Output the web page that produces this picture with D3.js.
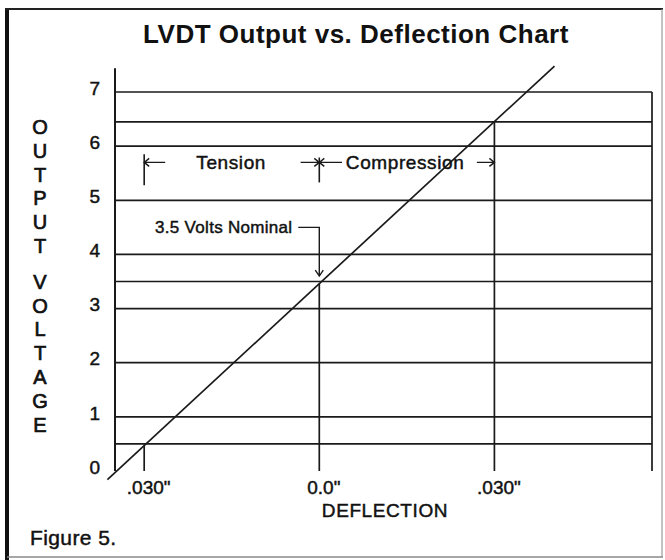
<!DOCTYPE html>
<html>
<head>
<style>
  body { margin: 0; background: #fff; }
  text { font-family: "Liberation Sans", Arial, Helvetica, sans-serif; fill: #111; }
  .ink { stroke: #111; stroke-width: 0.45px; }
  .grid line, .mark { stroke: #1a1a1a; stroke-width: 1.7; fill: none; }
</style>
</head>
<body>
<script src="https://d3js.org/d3.v7.min.js"></script>
<script>
// deflection in inches, output in volts
const gridVolts = [0.5, 1, 2, 3, 3.5, 4, 5, 6, 6.45, 7];
const voltTicks = [0, 1, 2, 3, 4, 5, 6, 7];
const deflTicks = [-0.030, 0, 0.030];
const deflLabels = ['.030"', '0.0"', '.030"'];
const markerTops = [0.47, 3.46, 6.45];          // where each deflection marker meets the line
const responseLine = [[-0.0363, -0.16], [0.0403, 7.48]];
const yTitle = 'OUTPUT VOLTAGE';

const width = 665, height = 560;

const svg = d3.select('body').append('svg')
  .attr('width', width)
  .attr('height', height);

// Frame
svg.append('line').attr('x1', 7).attr('x2', 7).attr('y1', 8).attr('y2', 560)
  .attr('stroke', '#111').attr('stroke-width', 4);
svg.append('line').attr('x1', 5).attr('x2', 663).attr('y1', 9).attr('y2', 9)
  .attr('stroke', '#222').attr('stroke-width', 2);
svg.append('line').attr('x1', 662).attr('x2', 662).attr('y1', 9).attr('y2', 557)
  .attr('stroke', '#999').attr('stroke-width', 1.2);
svg.append('line').attr('x1', 7).attr('x2', 663).attr('y1', 557).attr('y2', 557)
  .attr('stroke', '#888').attr('stroke-width', 1.5);

// Scales
const x = d3.scaleLinear().domain([-0.035, 0.057]).range([115, 652]);
const y = d3.scaleLinear().domain([0, 7]).range([471, 92]);

// Title
svg.append('text')
  .attr('x', 356).attr('y', 43)
  .attr('text-anchor', 'middle')
  .style('font-size', '26px').style('font-weight', 'bold')
  .style('letter-spacing', '0.5px')
  .text('LVDT Output vs. Deflection Chart');

// Horizontal grid lines
const grid = svg.append('g').attr('class', 'grid');
grid.selectAll('line.h')
  .data(gridVolts)
  .enter()
  .append('line')
  .attr('class', 'h')
  .attr('x1', x.range()[0]).attr('x2', x.range()[1])
  .attr('y1', d => y(d)).attr('y2', d => y(d));

// Left axis line and right edge
grid.append('line')
  .attr('x1', x.range()[0]).attr('x2', x.range()[0])
  .attr('y1', y(7.44)).attr('y2', y(0))
  .style('stroke-width', 2);
grid.append('line')
  .attr('x1', x.range()[1]).attr('x2', x.range()[1])
  .attr('y1', y(7)).attr('y2', y(0));

// Deflection markers
grid.selectAll('line.v')
  .data(deflTicks)
  .enter()
  .append('line')
  .attr('class', 'v')
  .attr('x1', d => x(d)).attr('x2', d => x(d))
  .attr('y1', (d, i) => y(markerTops[i])).attr('y2', y(0));

// Response line
svg.append('path')
  .datum(responseLine)
  .attr('class', 'mark')
  .attr('d', d3.line().x(d => x(d[0])).y(d => y(d[1])));

// Y axis labels
const yAxis = d3.axisLeft(y).tickValues(voltTicks)
  .tickFormat(d3.format('d')).tickSize(0).tickPadding(15);
svg.append('g')
  .attr('transform', `translate(${x.range()[0]},0)`)
  .call(yAxis)
  .call(g => g.select('.domain').remove())
  .selectAll('text')
  .attr('class', 'ink')
  .attr('dy', '0.12em')
  .style('font-size', '19px')
  .style('font-family', '"Liberation Sans", Arial, sans-serif')
  .attr('fill', '#111');

// X axis labels
const xAxis = d3.axisBottom(x).tickValues(deflTicks)
  .tickFormat((d, i) => deflLabels[i]).tickSize(0).tickPadding(10);
svg.append('g')
  .attr('transform', `translate(0,${y(0)})`)
  .call(xAxis)
  .call(g => g.select('.domain').remove())
  .selectAll('text')
  .attr('class', 'ink')
  .attr('dx', 4)
  .style('font-size', '19px')
  .style('font-family', '"Liberation Sans", Arial, sans-serif')
  .attr('fill', '#111');

svg.append('text')
  .attr('class', 'ink')
  .attr('x', 385).attr('y', 517)
  .attr('text-anchor', 'middle')
  .style('font-size', '19px')
  .style('letter-spacing', '0.6px')
  .text('DEFLECTION');

// Vertical y title, one letter per row
let ty = 127;
const letters = svg.append('g');
yTitle.split('').forEach(ch => {
  if (ch === ' ') { ty += 12; return; }
  letters.append('text')
    .attr('class', 'ink')
    .attr('x', 40).attr('y', ty)
    .attr('text-anchor', 'middle')
    .attr('dominant-baseline', 'central')
    .style('font-size', '20px')
    .style('stroke-width', '0.7px')
    .text(ch);
  ty += 23.8;
});

// Tension / Compression annotation
const rowV = 5.7;
function arrow(from, to, v) {
  const x1 = x(from), x2 = x(to), yy = y(v);
  const dir = x2 > x1 ? -1 : 1;
  svg.append('path')
    .attr('class', 'mark')
    .style('stroke-width', 1.4)
    .attr('d', `M${x1},${yy}L${x2},${yy}M${x2 + dir * 5},${yy - 4}L${x2},${yy}L${x2 + dir * 5},${yy + 4}`);
}
function bar(d, v1, v2) {
  svg.append('line')
    .attr('class', 'mark')
    .style('stroke-width', 1.6)
    .attr('x1', x(d)).attr('x2', x(d))
    .attr('y1', y(v1)).attr('y2', y(v2));
}
bar(-0.030, 5.85, 5.28);
bar(0, 5.79, 5.33);
arrow(-0.0264, -0.030, rowV);
arrow(-0.0032, 0, rowV);
arrow(0.0039, 0, rowV);
arrow(0.0270, 0.030, rowV);

svg.append('text')
  .attr('class', 'ink')
  .attr('x', x(-0.0151)).attr('y', y(rowV)).attr('dy', '0.36em')
  .attr('text-anchor', 'middle')
  .style('font-size', '19px').style('letter-spacing', '0.6px')
  .text('Tension');
svg.append('text')
  .attr('class', 'ink')
  .attr('x', x(0.0147)).attr('y', y(rowV)).attr('dy', '0.36em')
  .attr('text-anchor', 'middle')
  .style('font-size', '19px').style('letter-spacing', '0.6px')
  .text('Compression');

// Nominal point callout
svg.append('text')
  .attr('class', 'ink')
  .attr('x', x(-0.0046)).attr('y', y(4.5)).attr('dy', '0.36em')
  .attr('text-anchor', 'end')
  .style('font-size', '17px').style('letter-spacing', '0.3px')
  .text('3.5 Volts Nominal');
svg.append('path')
  .attr('class', 'mark')
  .style('stroke-width', 1.4)
  .attr('d', `M${x(-0.0036)},${y(4.5)}L${x(0)},${y(4.5)}L${x(0)},${y(3.6)}` +
    `M${x(0) - 4},${y(3.6) - 6}L${x(0)},${y(3.6)}L${x(0) + 4},${y(3.6) - 6}`);

// Figure caption
svg.append('text')
  .attr('class', 'ink')
  .attr('x', 30).attr('y', 545)
  .style('font-size', '21px')
  .style('letter-spacing', '0.4px')
  .text('Figure 5.');
</script>
</body>
</html>
